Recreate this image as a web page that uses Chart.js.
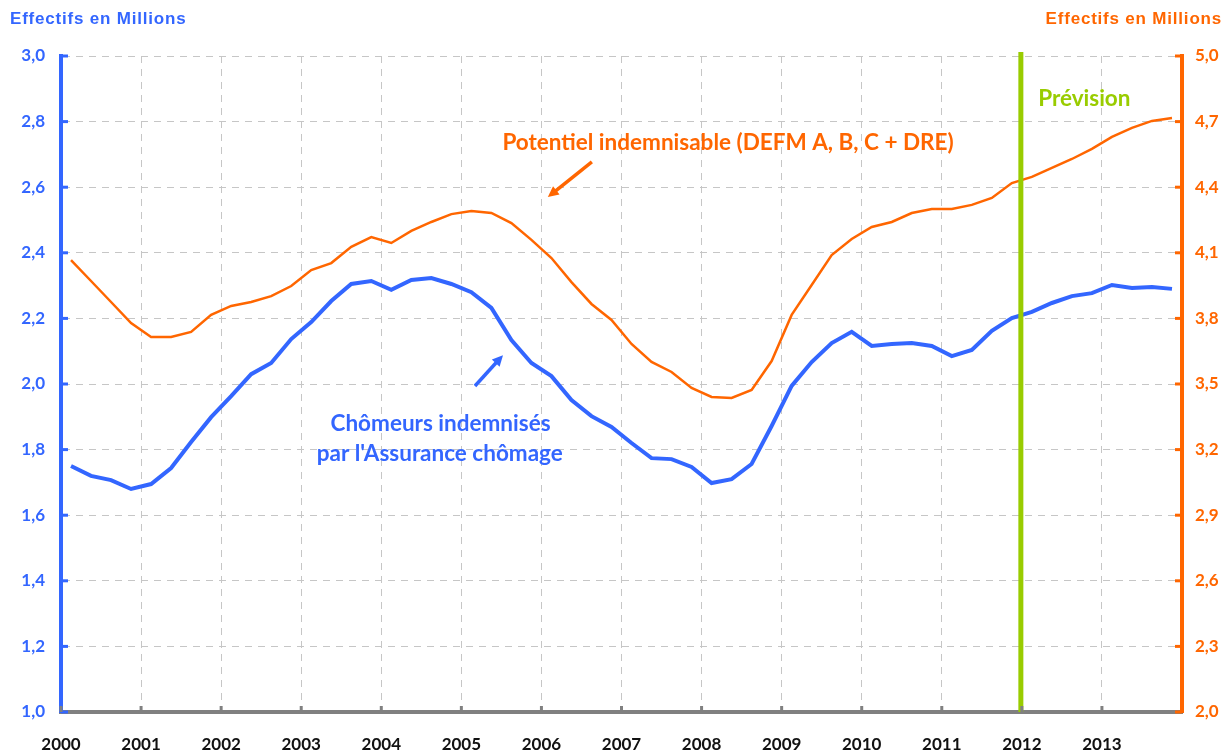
<!DOCTYPE html>
<html lang="fr">
<head>
<meta charset="utf-8">
<title>Chômeurs indemnisés et potentiel indemnisable</title>
<script src="https://cdn.jsdelivr.net/npm/chart.js@4.4.1/dist/chart.umd.min.js"></script>
<style>
  html, body { margin: 0; padding: 0; background: #fff; }
  #wrap { width: 1226px; height: 754px; }
</style>
</head>
<body>
<div id="wrap"><canvas id="chart" width="1226" height="754"></canvas></div>
<script>
/* Chômeurs indemnisés vs potentiel indemnisable, données trimestrielles 2000-2013 */

const YEARS    = [2000, 2001, 2002, 2003, 2004, 2005, 2006, 2007, 2008, 2009, 2010, 2011, 2012, 2013];
const QUARTERS = YEARS.flatMap(y => ["T1", "T2", "T3", "T4"].map(q => y + q));

// axe de gauche (millions)
const CHOMEURS = [
  1.750, 1.720, 1.707, 1.680, 1.695, 1.744, 1.823, 1.899,
  1.963, 2.030, 2.064, 2.137, 2.189, 2.253, 2.305, 2.314,
  2.287, 2.317, 2.323, 2.305, 2.280, 2.232, 2.134, 2.064,
  2.024, 1.951, 1.902, 1.869, 1.820, 1.774, 1.771, 1.747,
  1.698, 1.710, 1.756, 1.872, 1.994, 2.067, 2.125, 2.159,
  2.116, 2.122, 2.125, 2.116, 2.085, 2.104, 2.162, 2.201,
  2.220, 2.247, 2.268, 2.277, 2.302, 2.293, 2.296, 2.290,
];

// axe de droite (millions)
const POTENTIEL = [
  4.067, 3.971, 3.875, 3.779, 3.715, 3.715, 3.738, 3.816,
  3.857, 3.875, 3.902, 3.948, 4.021, 4.053, 4.127, 4.172,
  4.145, 4.200, 4.241, 4.277, 4.291, 4.282, 4.236, 4.159,
  4.076, 3.966, 3.866, 3.793, 3.683, 3.601, 3.555, 3.482,
  3.441, 3.436, 3.473, 3.605, 3.816, 3.953, 4.090, 4.163,
  4.218, 4.241, 4.282, 4.300, 4.300, 4.319, 4.351, 4.419,
  4.447, 4.488, 4.529, 4.575, 4.630, 4.671, 4.703, 4.716,
];

const LEFT_TICKS  = [1.0, 1.2, 1.4, 1.6, 1.8, 2.0, 2.2, 2.4, 2.6, 2.8, 3.0];
const RIGHT_TICKS = [2.0, 2.3, 2.6, 2.9, 3.2, 3.5, 3.8, 4.1, 4.4, 4.7, 5.0];
const PREVISION_DEBUT = 2012;

const BLUE   = "#3366ff";
const ORANGE = "#ff6600";
const GREEN  = "#99cc00";
const GRID   = "#c6c6c6";
const CAL    = "Lato, 'Noto Sans', sans-serif";

const fmtFr = v => v.toFixed(1).replace(".", ",");
const setTicks = list => scale => { scale.ticks = list.map(v => ({ value: v })); };

/* ── petites graduations vers l'intérieur ── */
const innerTicks = {
  id: "innerTicks",
  afterDraw(chart) {
    const { ctx, chartArea: a, scales } = chart;
    ctx.save();
    ctx.lineWidth = 3;
    ctx.strokeStyle = BLUE;
    scales.yL.ticks.forEach(t => {
      const y = scales.yL.getPixelForValue(t.value);
      ctx.beginPath(); ctx.moveTo(a.left, y); ctx.lineTo(a.left + 7, y); ctx.stroke();
    });
    ctx.strokeStyle = ORANGE;
    scales.yR.ticks.forEach(t => {
      const y = scales.yR.getPixelForValue(t.value);
      ctx.beginPath(); ctx.moveTo(a.right - 7, y); ctx.lineTo(a.right, y); ctx.stroke();
    });
    ctx.strokeStyle = "#808080";
    scales.years.ticks.forEach(t => {
      const x = scales.years.getPixelForValue(t.value);
      ctx.beginPath(); ctx.moveTo(x, a.bottom); ctx.lineTo(x, a.bottom - 6); ctx.stroke();
    });
    ctx.restore();
  },
};

function arrow(ctx, x1, y1, x2, y2, color) {
  const ang = Math.atan2(y2 - y1, x2 - x1);
  const head = 12;
  ctx.save();
  ctx.strokeStyle = color;
  ctx.fillStyle = color;
  ctx.lineWidth = 3.5;
  ctx.beginPath();
  ctx.moveTo(x1, y1);
  ctx.lineTo(x2 - Math.cos(ang) * head * 0.8, y2 - Math.sin(ang) * head * 0.8);
  ctx.stroke();
  ctx.beginPath();
  ctx.moveTo(x2, y2);
  ctx.lineTo(x2 - head * Math.cos(ang - 0.45), y2 - head * Math.sin(ang - 0.45));
  ctx.lineTo(x2 - head * Math.cos(ang + 0.45), y2 - head * Math.sin(ang + 0.45));
  ctx.closePath();
  ctx.fill();
  ctx.restore();
}

/* ── ligne Prévision, libellés et flèches ── */
const annotations = {
  id: "annotations",
  afterDatasetsDraw(chart) {
    const { ctx, chartArea: a, scales } = chart;
    const X = yr => scales.years.getPixelForValue(yr);
    const Y = v => scales.yL.getPixelForValue(v);

    ctx.save();
    ctx.strokeStyle = GREEN;
    ctx.lineWidth = 5;
    ctx.beginPath();
    ctx.moveTo(X(PREVISION_DEBUT) - 1, a.top - 4);
    ctx.lineTo(X(PREVISION_DEBUT) - 1, a.bottom);
    ctx.stroke();

    ctx.textAlign = "center";
    ctx.textBaseline = "middle";
    ctx.font = `bold 22.5px ${CAL}`;
    ctx.fillStyle = GREEN;
    ctx.fillText("Prévision", X(2012.78), Y(2.87));

    ctx.fillStyle = ORANGE;
    ctx.fillText("Potentiel indemnisable (DEFM A, B, C + DRE)", X(2008.33), Y(2.735));

    ctx.fillStyle = BLUE;
    ctx.fillText("Chômeurs indemnisés", X(2004.74), Y(1.878));
    ctx.fillText("par l'Assurance chômage", X(2004.73), Y(1.788));
    ctx.restore();

    arrow(ctx, X(2006.63), Y(2.677), X(2006.08), Y(2.570), ORANGE);
    arrow(ctx, X(2005.17), Y(1.994), X(2005.52), Y(2.088), BLUE);
  },
  afterDraw(chart) {
    const { ctx } = chart;
    ctx.save();
    ctx.font = "bold 17px 'Liberation Sans', Arial, sans-serif";
    ctx.letterSpacing = "0.8px";
    ctx.textBaseline = "middle";
    ctx.textAlign = "left";
    ctx.fillStyle = BLUE;
    ctx.fillText("Effectifs en Millions", 10, 19);
    ctx.textAlign = "right";
    ctx.fillStyle = ORANGE;
    ctx.fillText("Effectifs en Millions", 1222, 19);
    ctx.restore();
  },
};

new Chart(document.getElementById("chart"), {
  type: "line",
  data: {
    labels: QUARTERS,
    datasets: [
      {
        label: "Potentiel indemnisable (DEFM A, B, C + DRE)",
        data: POTENTIEL,
        yAxisID: "yR",
        borderColor: ORANGE,
        borderWidth: 2.5,
        pointRadius: 0,
        tension: 0,
      },
      {
        label: "Chômeurs indemnisés par l'Assurance chômage",
        data: CHOMEURS,
        yAxisID: "yL",
        borderColor: BLUE,
        borderWidth: 4,
        pointRadius: 0,
        tension: 0,
      },
    ],
  },
  options: {
    responsive: false,
    animation: false,
    layout: { padding: { top: 56, left: 0, right: 0, bottom: 0 } },
    plugins: { legend: { display: false }, tooltip: { enabled: false } },
    scales: {
      x: { type: "category", display: false, offset: true },
      years: {
        type: "linear",
        position: "bottom",
        min: 2000,
        max: 2014,
        afterBuildTicks: setTicks(YEARS),
        afterFit: s => { s.height = 42; },
        ticks: {
          autoSkip: false,
          maxRotation: 0,
          padding: 22,
          color: "#111",
          font: { family: CAL, size: 17, weight: "bold" },
          callback: v => String(v),
        },
        grid: { color: GRID, lineWidth: 1, drawTicks: false },
        border: { color: "#808080", width: 4, dash: [7, 6] },
      },
      yL: {
        type: "linear",
        position: "left",
        min: 1,
        max: 3,
        afterBuildTicks: setTicks(LEFT_TICKS),
        afterFit: s => { s.width = 61; },
        ticks: {
          padding: 16,
          color: BLUE,
          font: { family: CAL, size: 17, weight: "bold" },
          callback: fmtFr,
        },
        grid: { color: GRID, lineWidth: 1, drawTicks: false },
        border: { color: BLUE, width: 4, dash: [7, 6] },
      },
      yR: {
        type: "linear",
        position: "right",
        min: 2,
        max: 5,
        afterBuildTicks: setTicks(RIGHT_TICKS),
        afterFit: s => { s.width = 44; },
        ticks: {
          padding: 13,
          color: ORANGE,
          font: { family: CAL, size: 17, weight: "bold" },
          callback: fmtFr,
        },
        grid: { drawOnChartArea: false, drawTicks: false },
        border: { color: ORANGE, width: 4 },
      },
    },
  },
  plugins: [innerTicks, annotations],
});
</script>
</body>
</html>
